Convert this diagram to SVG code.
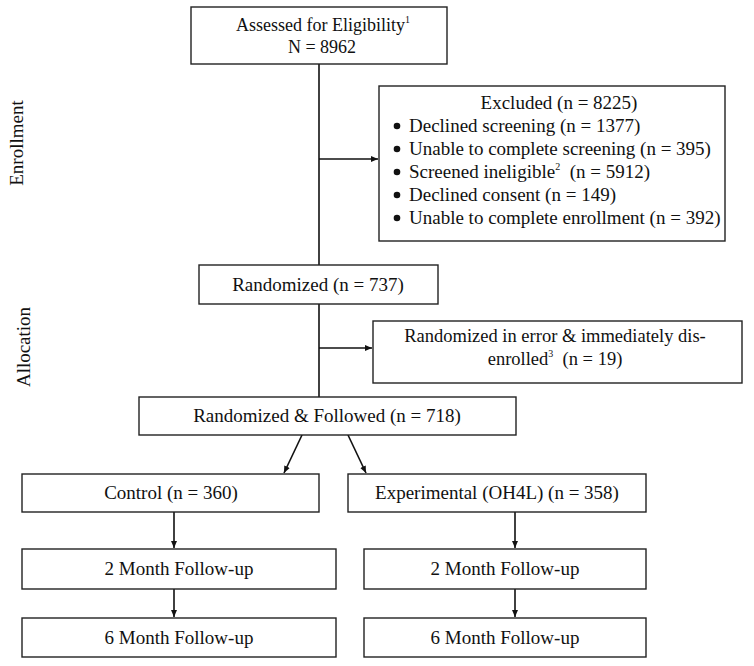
<svg xmlns="http://www.w3.org/2000/svg" width="754" height="666" viewBox="0 0 754 666" font-family="'Liberation Serif', 'Times New Roman', serif">
<style>
.box{fill:#fff;stroke:#222;stroke-width:1.4}
text{font-family:'Liberation Serif','Times New Roman',serif;font-size:19px;fill:#111}
.c{text-anchor:middle}
.sup{font-size:10px}
.ln{stroke:#111;stroke-width:1.6;fill:none}
</style>
<defs>
<marker id="ah" markerWidth="8" markerHeight="8" refX="7" refY="4" orient="auto" markerUnits="userSpaceOnUse">
<path d="M0,1 L7,4 L0,7 Z" fill="#111"/>
</marker>
</defs>
<rect width="754" height="666" fill="#fff"/>
<g id="labels">
<text class="c" transform="translate(23,143) rotate(-90)">Enrollment</text>
<text class="c" transform="translate(30,347) rotate(-90)">Allocation</text>
</g>
<g id="connectors">
<line class="ln" x1="319" y1="64" x2="319" y2="265"/>
<line class="ln" x1="319" y1="159" x2="378" y2="159" marker-end="url(#ah)"/>
<line class="ln" x1="319" y1="304" x2="319" y2="397"/>
<line class="ln" x1="319" y1="348" x2="372" y2="348" marker-end="url(#ah)"/>
<line class="ln" x1="302" y1="435" x2="284" y2="473" marker-end="url(#ah)"/>
<line class="ln" x1="348" y1="435" x2="366" y2="473" marker-end="url(#ah)"/>
<line class="ln" x1="174" y1="512" x2="174" y2="548" marker-end="url(#ah)"/>
<line class="ln" x1="174" y1="589" x2="174" y2="617" marker-end="url(#ah)"/>
<line class="ln" x1="515" y1="512" x2="515" y2="548" marker-end="url(#ah)"/>
<line class="ln" x1="515" y1="589" x2="515" y2="617" marker-end="url(#ah)"/>
</g>
<g id="assessed">
<rect class="box" x="191" y="7" width="256" height="57"/>
<text class="c" x="323" y="31" style="font-size:18px">Assessed for Eligibility<tspan class="sup" dy="-8">1</tspan></text>
<text class="c" x="322" y="53" style="font-size:18px">N = 8962</text>
</g>
<g id="excluded">
<rect class="box" x="379" y="86" width="346" height="155"/>
<text class="c" x="559" y="109">Excluded (n = 8225)</text>
<g fill="#111">
<circle cx="397" cy="126" r="3.3"/>
<circle cx="397" cy="149" r="3.3"/>
<circle cx="397" cy="172" r="3.3"/>
<circle cx="397" cy="195" r="3.3"/>
<circle cx="397" cy="218" r="3.3"/>
</g>
<text x="409" y="132">Declined screening (n = 1377)</text>
<text x="409" y="155">Unable to complete screening (n = 395)</text>
<text x="409" y="178">Screened ineligible<tspan class="sup" dy="-8">2</tspan><tspan dy="8" xml:space="preserve">  (n = 5912)</tspan></text>
<text x="409" y="201">Declined consent (n = 149)</text>
<text x="409" y="224">Unable to complete enrollment (n = 392)</text>
</g>
<g id="randomized">
<rect class="box" x="199" y="265" width="239" height="39"/>
<text class="c" x="318" y="291">Randomized (n = 737)</text>
</g>
<g id="error">
<rect class="box" x="373" y="321" width="369" height="62"/>
<text class="c" x="555" y="342" style="font-size:18.5px">Randomized in error &amp; immediately dis-</text>
<text class="c" x="555" y="365" style="font-size:18.5px">enrolled<tspan class="sup" dy="-8">3</tspan><tspan dy="8" xml:space="preserve">  (n = 19)</tspan></text>
</g>
<g id="followed">
<rect class="box" x="139" y="397" width="377" height="38"/>
<text class="c" x="327" y="422">Randomized &amp; Followed (n = 718)</text>
</g>
<g id="control">
<rect class="box" x="22" y="474" width="297" height="38"/>
<text class="c" x="171" y="499">Control (n = 360)</text>
</g>
<g id="experimental">
<rect class="box" x="348" y="474" width="298" height="38"/>
<text class="c" x="497" y="499">Experimental (OH4L) (n = 358)</text>
</g>
<g id="control2">
<rect class="box" x="22" y="549" width="314" height="40"/>
<text class="c" x="179" y="575">2 Month Follow-up</text>
</g>
<g id="exp2">
<rect class="box" x="364" y="549" width="282" height="40"/>
<text class="c" x="505" y="575">2 Month Follow-up</text>
</g>
<g id="control6">
<rect class="box" x="22" y="618" width="314" height="39"/>
<text class="c" x="179" y="644">6 Month Follow-up</text>
</g>
<g id="exp6">
<rect class="box" x="364" y="618" width="282" height="39"/>
<text class="c" x="505" y="644">6 Month Follow-up</text>
</g>
</svg>
